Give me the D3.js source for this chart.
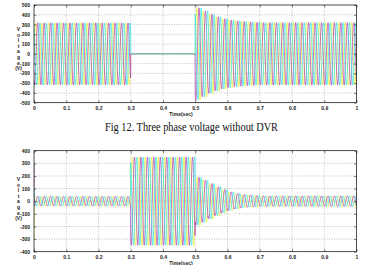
<!DOCTYPE html>
<html><head><meta charset="utf-8">
<script src="https://cdn.jsdelivr.net/npm/d3@7"></script>
<style>body{margin:0;background:#fff}svg{display:block}</style>
</head><body>
<script>
// ---- data ----
const timeTicks = [0,0.1,0.2,0.3,0.4,0.5,0.6,0.7,0.8,0.9,1];
const timeTickLabels = ["0","0.1","0.2","0.3","0.4","0.5","0.6","0.7","0.8","0.9","1"];
const voltTicksTop = [500,400,300,200,100,0,-100,-200,-300,-400,-500];
const voltTicksBottom = [400,300,200,100,0,-100,-200,-300,-400];
const frequencyHz = 50;
const phaseNames = ["A","B","C"];
const phaseShiftDeg = [0,-120,120];
const phaseColors = ["#eeee30","#b03cb0","#2ee6e6"];
// peak amplitude of every 20 ms cycle, 0 .. 1 s (50 cycles)
const topCycleAmp = [
 318,318,318,318,318,318,318,318,318,318,318,318,318,318,318,
 0,0,0,0,0,0,0,0,0,0,
 472,440,405,380,360,347,338,332,327,323,
 320,320,320,320,320,320,320,320,320,320,320,320,320,320,320];
const bottomCycleAmp = [
 38,38,38,38,38,38,38,38,38,38,38,38,38,38,38,
 350,350,350,350,350,350,350,350,350,350,
 190,168,140,115,92,74,62,53,48,45,
 42,42,42,42,42,42,42,42,42,42,42,42,42,42,42];
// start-up spike of each phase in the lower plot (value at t = 0)
const bottomStartSpike = [-300,300,100];
const captionTop = "Fig 12. Three phase voltage without DVR";
const xLabel = "Time(sec)";
const yLabelLetters = ["V","o","l","t","a","g","e","(V)"];

const W = 365, H = 265;
const svg = d3.select("body").append("svg").attr("width",W).attr("height",H);
svg.append("rect").attr("width",W).attr("height",H).attr("fill","#fff");

function drawChart(cfg){
  const g = svg.append("g");
  const x = d3.scaleLinear().domain([0,1]).range([cfg.left,cfg.right]);
  const y = d3.scaleLinear().domain(cfg.domain).range([cfg.bottom,cfg.top]);
  const id = "clip"+cfg.name;
  svg.append("clipPath").attr("id",id).append("rect")
    .attr("x",cfg.left).attr("y",cfg.top).attr("width",cfg.right-cfg.left).attr("height",cfg.bottom-cfg.top);
  // grid
  g.append("g").selectAll("line").data(timeTicks.slice(1,-1)).join("line")
    .attr("x1",d=>x(d)).attr("x2",d=>x(d)).attr("y1",cfg.top).attr("y2",cfg.bottom)
    .attr("stroke","#999").attr("stroke-width",0.6).attr("stroke-dasharray","1,1.5");
  g.append("g").selectAll("line").data(cfg.yticks.slice(1,-1)).join("line")
    .attr("y1",d=>y(d)).attr("y2",d=>y(d)).attr("x1",cfg.left).attr("x2",cfg.right)
    .attr("stroke","#999").attr("stroke-width",0.6).attr("stroke-dasharray","1,1.5");
  // waveforms
  const fs = 2000;
  const n = Math.round(fs*1);
  const wg = g.append("g").attr("clip-path",`url(#${id})`);
  phaseNames.forEach((p,k)=>{
    const pts = [];
    for(let i=0;i<=n;i++){
      const t = i/fs;
      const c = Math.min(cfg.amp.length-1, Math.floor(t*frequencyHz+1e-9));
      let v = cfg.amp[c]*Math.sin(2*Math.PI*frequencyHz*t + phaseShiftDeg[k]*Math.PI/180);
      if(i===0 && cfg.spike) v = cfg.spike[k];
      pts.push([t,v]);
    }
    wg.append("path").datum(pts)
      .attr("d",d3.line().x(d=>x(d[0])).y(d=>y(d[1])))
      .attr("fill","none").attr("stroke",phaseColors[k]).attr("stroke-width",0.7);
  });
  // axes (ticks inside)
  const fontAx = "'Liberation Sans',Arial,sans-serif";
  const ax = g.append("g").attr("transform",`translate(${cfg.left},0)`)
    .call(d3.axisLeft(y).tickValues(cfg.yticks).tickSize(-2.5).tickPadding(4).tickFormat(d=>String(d)));
  const axr = g.append("g").attr("transform",`translate(${cfg.right},0)`)
    .call(d3.axisRight(y).tickValues(cfg.yticks).tickSize(-2.5).tickFormat(""));
  const axb = g.append("g").attr("transform",`translate(0,${cfg.bottom})`)
    .call(d3.axisBottom(x).tickValues(timeTicks).tickSize(-2.5).tickPadding(4).tickFormat((d,i)=>timeTickLabels[i]));
  const axt = g.append("g").attr("transform",`translate(0,${cfg.top})`)
    .call(d3.axisTop(x).tickValues(timeTicks).tickSize(-2.5).tickFormat(""));
  [ax,axr,axb,axt].forEach(a=>{
    a.select(".domain").remove();
    a.selectAll(".tick line").attr("stroke","#000").attr("stroke-width",0.5);
    a.selectAll("text").attr("font-family",fontAx).attr("font-size",5).attr("font-weight","bold").attr("fill","#222");
  });
  g.append("rect").attr("x",cfg.left).attr("y",cfg.top).attr("width",cfg.right-cfg.left).attr("height",cfg.bottom-cfg.top)
    .attr("fill","none").attr("stroke","#000").attr("stroke-width",0.7);
  // labels
  g.append("text").attr("x",181).attr("y",cfg.bottom+13.5).attr("text-anchor","middle")
    .attr("font-family",fontAx).attr("font-size",5).attr("font-weight","bold").attr("fill","#222").text(xLabel);
  g.append("g").selectAll("text").data(yLabelLetters).join("text")
    .attr("x",18.5).attr("y",(d,i)=>cfg.ylabTop+i*5.6).attr("text-anchor","middle")
    .attr("font-family",fontAx).attr("font-size",5).attr("font-weight","bold").attr("fill","#222").text(d=>d);
}

drawChart({name:"top",left:34,right:356.5,top:5,bottom:102.7,domain:[-500,500],yticks:voltTicksTop,amp:topCycleAmp,ylabTop:31});
drawChart({name:"bot",left:34,right:356.5,top:150.7,bottom:251.7,domain:[-400,400],yticks:voltTicksBottom,amp:bottomCycleAmp,spike:bottomStartSpike,ylabTop:181});

svg.append("text").attr("x",105).attr("y",130.5)
  .attr("textLength",173).attr("lengthAdjust","spacingAndGlyphs")
  .attr("font-family","'Liberation Serif','Times New Roman',serif").attr("font-size",11.5).attr("fill","#111").text(captionTop);
</script>
</body></html>
